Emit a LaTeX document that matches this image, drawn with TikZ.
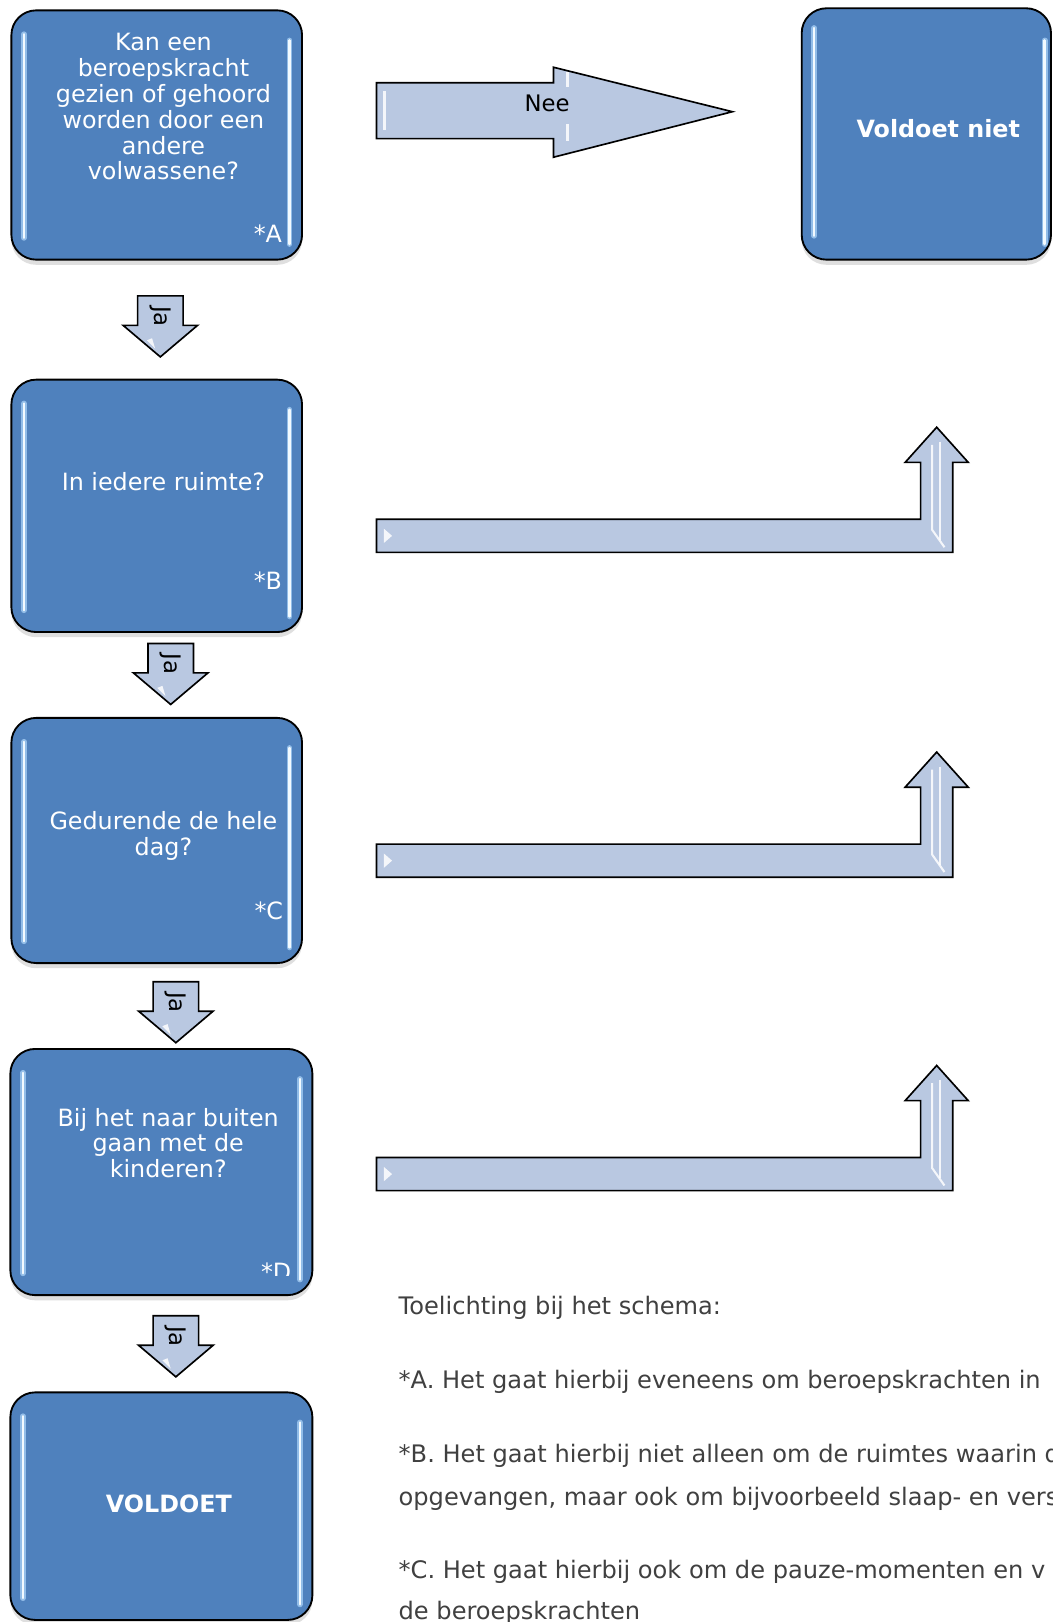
\documentclass[tikz,border=0pt]{standalone}
\usepackage{fontspec}
\setmainfont{DejaVu Sans}
\usetikzlibrary{shadows,calc}
\definecolor{boxblue}{HTML}{4F81BD}
\definecolor{arrowfill}{HTML}{B9C8E1}
\definecolor{glowblue}{HTML}{A9D2F7}
\definecolor{glowcore}{HTML}{F2FAFF}
\definecolor{bodytext}{HTML}{404040}
\newcommand\qlines[1]{\begin{tabular}[t]{@{}c@{}}#1\end{tabular}}
\newcommand\boxglints[1]{%
  \draw[glowouter] ($(#1.north west)+(13,24)$) -- ($(#1.south west)+(13,-22)$);
  \draw[glowinner] ($(#1.north west)+(13,24)$) -- ($(#1.south west)+(13,-22)$);
  \draw[glowouter] ($(#1.north east)+(-13,30)$) -- ($(#1.south east)+(-13,-16)$);
  \draw[glowinner] ($(#1.north east)+(-13,30)$) -- ($(#1.south east)+(-13,-16)$);}
\tikzset{
  qbox/.style={draw=black, line width=0.9pt, rounded corners=12pt, fill=boxblue,
    inner sep=0pt, drop shadow={opacity=0.25, shadow xshift=0pt, shadow yshift=-2.5pt}},
  glowouter/.style={line width=2.8pt, glowblue, opacity=0.75, line cap=round},
  glowinner/.style={line width=1.2pt, glowcore, line cap=round},
  qtext/.style={text=white, inner sep=0pt, font=\fontsize{11.5}{12.5}\selectfont},
  qbold/.style={text=white, inner sep=0pt, font=\fontsize{11.5}{12.5}\selectfont\bfseries},
  arrowshape/.style={draw=black, line width=0.8pt, fill=arrowfill, line join=miter},
  shine/.style={fill=white, opacity=0.85},
  jatext/.style={text=black, inner sep=0pt, font=\fontsize{11}{13}\selectfont, rotate=-90},
  neetext/.style={text=black, inner sep=0pt, font=\fontsize{11}{13}\selectfont},
  bodytxt/.style={text=bodytext, inner sep=0pt, anchor=base west, font=\fontsize{11.65}{14}\selectfont},
  jaarrow/.pic={
    \draw[arrowshape] (-22,0) -- (22,0) -- (22,28.5) -- (36,28.5) -- (0,59) -- (-36,28.5) -- (-22,28.5) -- cycle;
    \fill[shine] (-13,43) -- (-5,51) -- (-8,41) -- cycle;
    \node[jatext] (-t) at (0,20) {Ja};
  },
  bentarrow/.pic={
    \draw[arrowshape] (0,0) -- (526,0) -- (526,-55) -- (511,-55) -- (541.5,-89) -- (572,-55) -- (557,-55) -- (557,32) -- (0,32) -- cycle;
    \fill[shine] (7,9) -- (15,16) -- (7,23) -- cycle;
    \draw[white, line width=1pt, opacity=0.85] (537,-72) -- (537,10) -- (549,27);
    \draw[white, line width=0.8pt, opacity=0.85] (545,-75) -- (545,20);
  }
}
\begin{document}
\begin{tikzpicture}[x=0.5pt, y=-0.5pt]
\useasboundingbox (0,0) rectangle (1017,1568);
\fill[white] (0,0) rectangle (1017,1568);
\clip (0,0) rectangle (1017,1568);

% question boxes
\node[qbox, minimum width=140.5pt, minimum height=120.5pt] (A) at (151.5,130.5) {};
\node[qbox, minimum width=120.5pt, minimum height=121.5pt] (N) at (895.5,129.5) {};
\node[qbox, minimum width=140.5pt, minimum height=122pt] (B) at (151.5,489) {};
\node[qbox, minimum width=140.5pt, minimum height=118.5pt] (C) at (151.5,812.5) {};
\node[qbox, minimum width=146pt, minimum height=119pt] (D) at (156,1133) {};
\node[qbox, minimum width=146pt, minimum height=110pt] (V) at (156,1456) {};
\boxglints{A}\boxglints{B}\boxglints{C}\boxglints{D}\boxglints{V}
\draw[glowouter] ($(N.north west)+(13,20)$) -- ($(N.south west)+(13,-24)$);
\draw[glowinner] ($(N.north west)+(13,20)$) -- ($(N.south west)+(13,-24)$);
\draw[glowouter] ($(N.north east)+(-7,32)$) -- ($(N.south east)+(-7,-16)$);
\draw[glowinner] ($(N.north east)+(-7,32)$) -- ($(N.south east)+(-7,-16)$);

% box texts
\node[qtext, anchor=base] (Aq) at (158,49) {\qlines{Kan een\\beroepskracht\\gezien of gehoord\\worden door een\\andere\\volwassene?}};
\node[qtext, anchor=base east] (An) at (273,234) {*A};
\node[qbold, anchor=base] (Nq) at (907,132.8) {Voldoet niet};
\node[qtext, anchor=base] (Bq) at (158,474) {In iedere ruimte?};
\node[qtext, anchor=base east] (Bn) at (273,570) {*B};
\node[qtext, anchor=base] (Cq) at (158,801.6) {\qlines{Gedurende de hele\\dag?}};
\node[qtext, anchor=base east] (Cn) at (274,888.7) {*C};
\node[qtext, anchor=base] (Dq) at (162.6,1088.5) {\qlines{Bij het naar buiten\\gaan met de\\kinderen?}};
\begin{scope}
\clip (230,1190) rectangle (300,1233.5);
\node[qtext, anchor=base east] (Dn) at (282,1238) {*D};
\end{scope}
\node[qbold, anchor=base] (Vq) at (163.2,1462.4) {VOLDOET};

% Nee arrow
\draw[arrowshape] (364,80) -- (535,80) -- (535,65) -- (708,108) -- (535,152) -- (535,134) -- (364,134) -- cycle;
\fill[shine] (370,88) rectangle (373,126);
\fill[shine] (547,70) rectangle (550,84);
\fill[shine] (547,120) rectangle (550,136);
\node[neetext] (nee) at (529,100) {Nee};

% Ja arrows
\pic (ja1) at (155,286) {jaarrow};
\pic (ja2) at (165,622) {jaarrow};
\pic (ja3) at (170,949) {jaarrow};
\pic (ja4) at (170,1272) {jaarrow};

% bent arrows
\pic (nee2) at (364,502) {bentarrow};
\pic (nee3) at (364,816) {bentarrow};
\pic (nee4) at (364,1119) {bentarrow};

% explanation
\node[bodytxt] (t0) at (385,1271) {Toelichting bij het schema:};
\node[bodytxt] (t1) at (385,1342) {*A. Het gaat hierbij eveneens om beroepskrachten in};
\node[bodytxt] (t2) at (385,1414) {*B. Het gaat hierbij niet alleen om de ruimtes waarin d};
\node[bodytxt] (t3) at (385,1455) {opgevangen, maar ook om bijvoorbeeld slaap- en vers};
\node[bodytxt] (t4) at (385,1526) {*C. Het gaat hierbij ook om de pauze-momenten en v};
\node[bodytxt] (t5) at (385,1566) {de beroepskrachten};
\end{tikzpicture}
\end{document}
